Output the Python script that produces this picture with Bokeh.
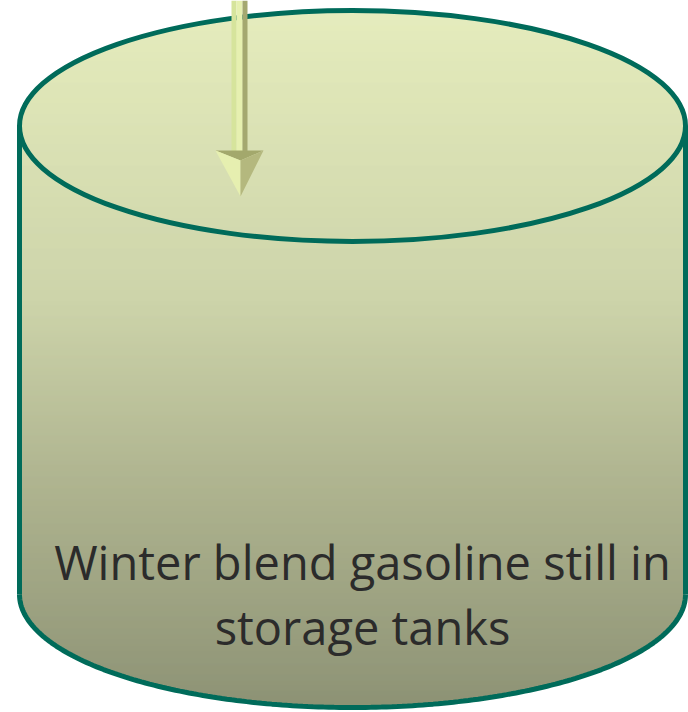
import numpy as np
from bokeh.plotting import figure
from bokeh.models import Range1d, ColumnDataSource
from bokeh.core.properties import value
from bokeh.embed import file_html
from bokeh.resources import INLINE

# ---- content ----
label_lines = ["Winter blend gasoline still in", "storage tanks"]

# gradient stops (y position in px, rgb) for the tank fill
grad_y = [10, 30, 300, 470, 680, 710]
grad_r = [226, 224, 198, 166, 130, 124]
grad_g = [234, 232, 206, 172, 136, 130]
grad_b = [182, 178, 158, 130, 102, 96]

# ---- geometry (screen pixels) ----
CX, RX = 352, 333
TOP_CY, TOP_RY = 125.5, 115.5
BOT_CY, BOT_RY = 594, 113
OUTLINE = "#006b5a"

p = figure(width=688, height=712, output_backend="svg", toolbar_location=None,
           x_range=Range1d(0, 688), y_range=Range1d(712, 0), min_border=0)
p.axis.visible = False
p.grid.visible = False
p.outline_line_color = None
p.background_fill_color = "white"
p.border_fill_color = "white"

# ---- tank fill as thin horizontal bands ----
ys = np.arange(int(TOP_CY - TOP_RY), int(BOT_CY + BOT_RY) + 1)
lefts, rights, cols = [], [], []
for y in ys:
    yc = y + 0.5
    if yc < TOP_CY:
        t = max(0.0, 1 - ((yc - TOP_CY) / TOP_RY) ** 2)
        hw = RX * np.sqrt(t)
    elif yc <= BOT_CY:
        hw = RX
    else:
        t = max(0.0, 1 - ((yc - BOT_CY) / BOT_RY) ** 2)
        hw = RX * np.sqrt(t)
    r = np.interp(yc, grad_y, grad_r)
    g = np.interp(yc, grad_y, grad_g)
    b = np.interp(yc, grad_y, grad_b)
    lefts.append(CX - hw)
    rights.append(CX + hw)
    cols.append("#%02x%02x%02x" % (int(r), int(g), int(b)))
src = ColumnDataSource(dict(left=lefts, right=rights, top=list(ys), bottom=list(ys + 1.3), color=cols))
p.quad(left="left", right="right", top="top", bottom="bottom", color="color", source=src, line_color=None)

# ---- outline ----
LW = 5
p.ellipse(x=[CX], y=[TOP_CY], width=[2 * RX], height=[2 * TOP_RY],
          fill_color=None, line_color=OUTLINE, line_width=LW)
p.line(x=[CX - RX, CX - RX], y=[TOP_CY, BOT_CY], line_color=OUTLINE, line_width=LW)
p.line(x=[CX + RX, CX + RX], y=[TOP_CY, BOT_CY], line_color=OUTLINE, line_width=LW)
th = np.linspace(0, np.pi, 200)
p.line(x=CX + RX * np.cos(th), y=BOT_CY + BOT_RY * np.sin(th), line_color=OUTLINE, line_width=LW)

# ---- arrow ----
p.quad(left=[231, 236, 242], right=[236, 242, 247], top=[0, 0, 0], bottom=[156, 156, 156],
       color=["#d6e49c", "#e6f0b0", "#a4a870"], line_color=None)
p.patches(xs=[[215, 263, 240], [215, 240, 240], [240, 263, 240]],
          ys=[[150, 150, 160], [150, 160, 196], [160, 150, 196]],
          color=["#a3a86c", "#e6efb0", "#b4b87e"], line_color=None)

# ---- text ----
p.text(x=[362, 362], y=[561, 626], text=label_lines, text_font=value("Open Sans"),
       text_font_size="47px", text_color="#2b2b2b", text_align="center", text_baseline="middle")

open("out.html", "w").write(file_html(p, INLINE))
